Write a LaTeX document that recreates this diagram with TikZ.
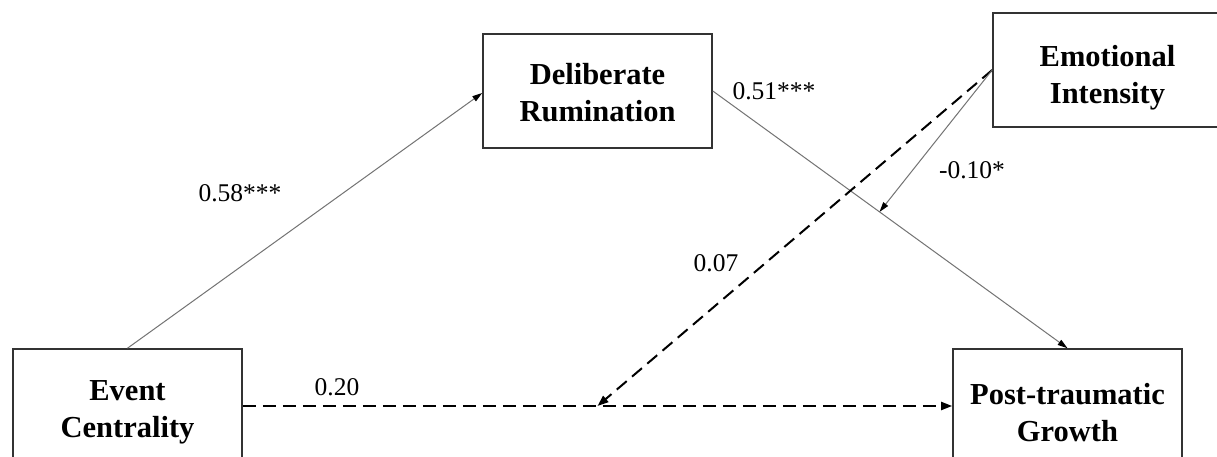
\documentclass[tikz,border=0pt]{standalone}
\usepackage{fontspec}
\setmainfont{Liberation Serif}
\usetikzlibrary{arrows.meta,calc}

\tikzset{
  varbox/.style={draw=black!80, line width=1.6pt, fill=white,
    minimum width=229pt, minimum height=114pt, inner sep=0pt},
  boxtext/.style={inner sep=0pt, align=center,
    font=\fontsize{30.5}{37}\selectfont\bfseries},
  coef/.style={inner sep=0pt, font=\fontsize{25.5}{30}\selectfont},
  pathline/.style={draw=black!55, line width=1pt,
    -{Triangle[length=10pt,width=6pt,fill=black,color=black]}},
  dashline/.style={draw=black, line width=2pt,
    dash pattern=on 13pt off 7pt,
    -{Triangle[length=11pt,width=8pt]}}
}

\begin{document}
\begin{tikzpicture}[x=1pt,y=-1pt]
  \useasboundingbox (0,0) rectangle (1217,457);
  \clip (0,0) rectangle (1217,457);
  \fill[white] (0,0) rectangle (1217,457);

  % variable boxes
  \node[varbox] (ec)  at (127.5,406)  {};
  \node[varbox] (ptg) at (1067.5,406) {};
  \node[varbox] (dr)  at (597.5,91)   {};
  \node[varbox] (ei)  at (1107.5,70)  {};

  % variable names
  \node[boxtext] (ectext)  at (127.5,412)  {Event\\Centrality};
  \node[boxtext] (ptgtext) at (1067.5,413) {Post-traumatic\\Growth};
  \node[boxtext] (drtext)  at (597.5,92.5) {Deliberate\\Rumination};
  \node[boxtext] (eitext)  at (1107.5,78)  {Emotional\\Intensity};

  % moderation targets on the direct and indirect paths
  \coordinate (mdirect)   at ($(ec.east)!0.5!(ptg.west)$);
  \coordinate (mindirect) at ($(dr.east)!0.47!(ptg.north)$);

  % paths
  \draw[pathline] (ec.north) -- ($(dr.west)+(0,2)$);
  \draw[pathline] (dr.east) -- (ptg.north);
  \draw[dashline] (ec.east) -- (ptg.west);
  \draw[dashline] (ei.west) -- (mdirect);
  \draw[pathline] (ei.west) -- (mindirect);

  % coefficients
  \node[coef] (c1) at (240,193) {0.58***};
  \node[coef] (c2) at (774,91)  {0.51***};
  \node[coef] (c3) at (972,170) {-0.10*};
  \node[coef] (c4) at (716,263) {0.07};
  \node[coef] (c5) at (337,387) {0.20};
\end{tikzpicture}
\end{document}
